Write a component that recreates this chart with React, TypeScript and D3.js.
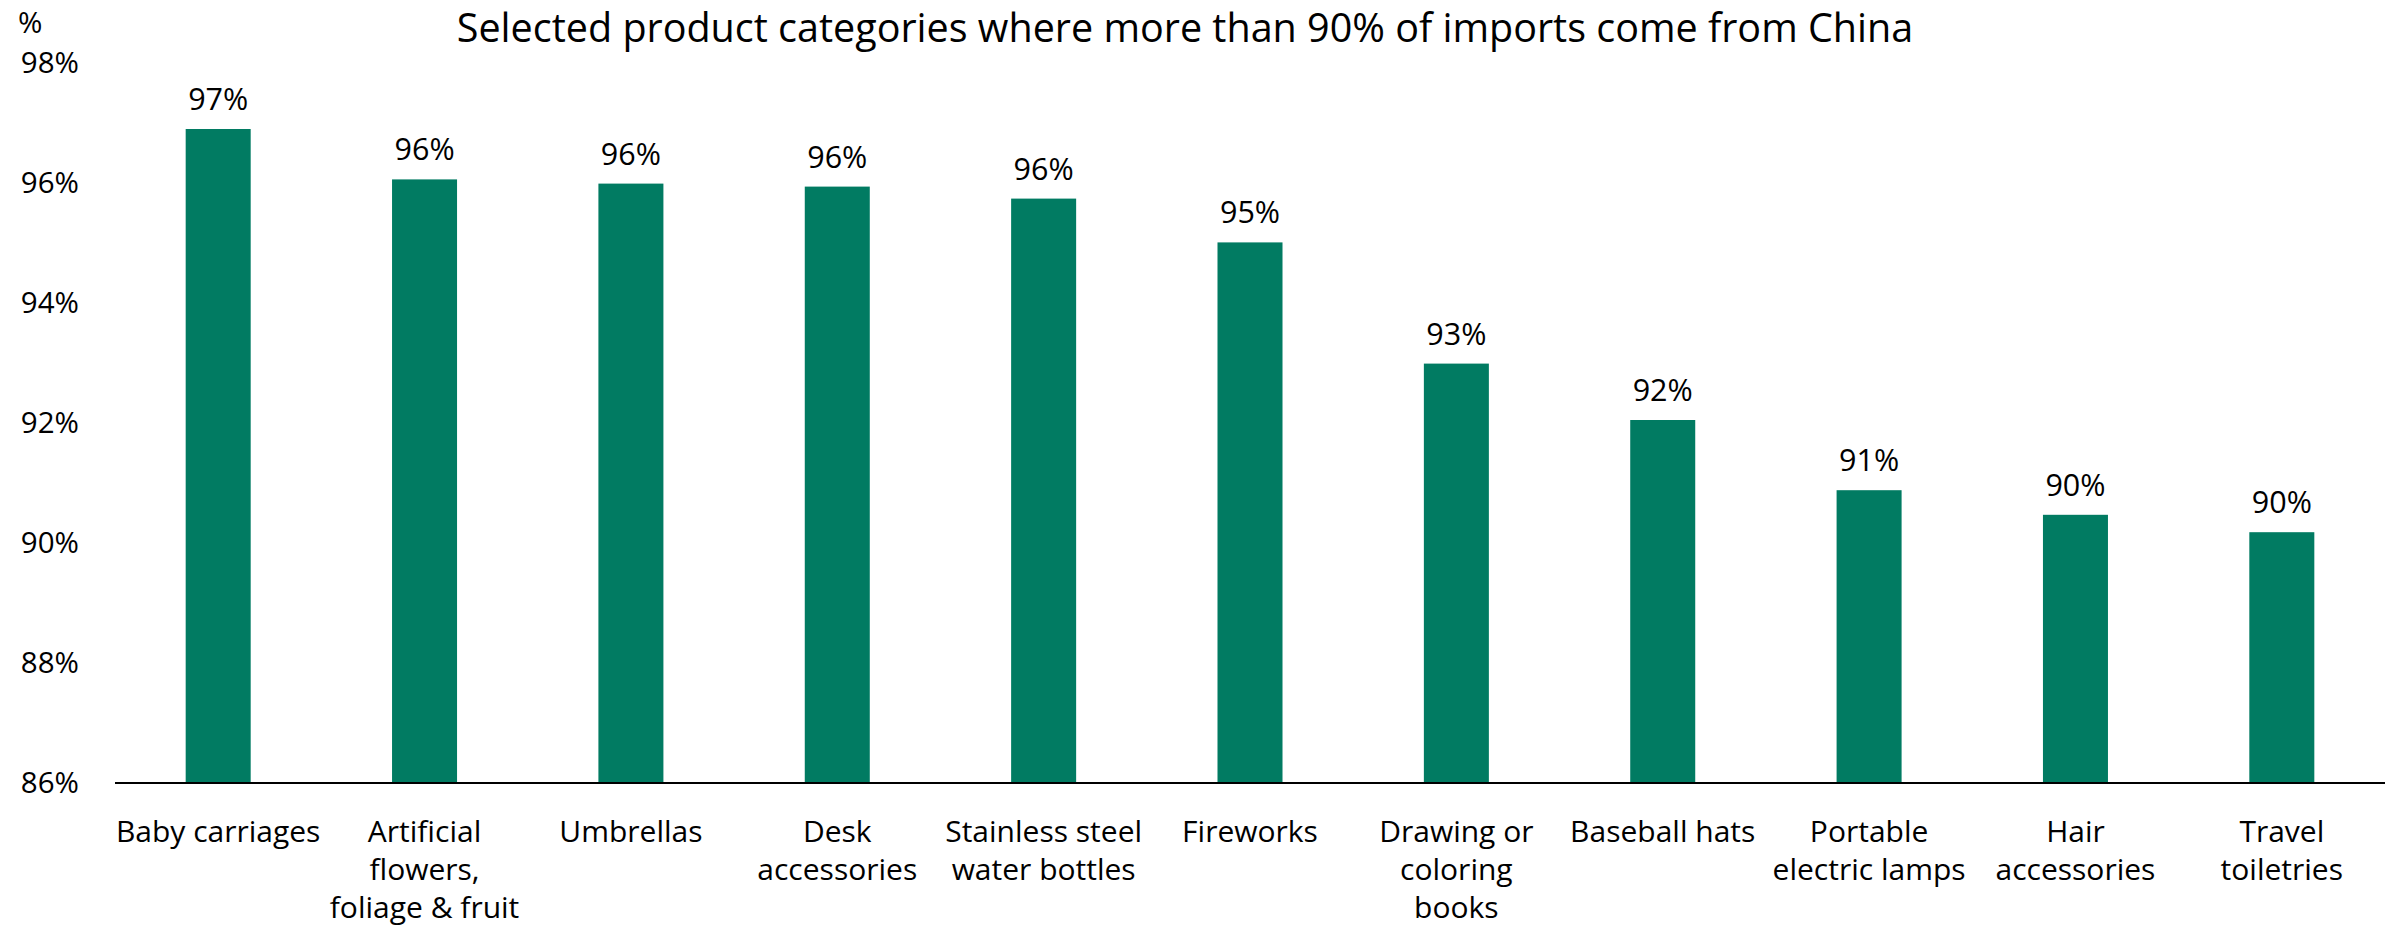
import React from 'react';
import * as d3 from 'd3';

const W = 2394;
const H = 935;

const title = 'Selected product categories where more than 90% of imports come from China';
const unitLabel = '%';

const categories: string[][] = [
  ['Baby carriages'],
  ['Artificial', 'flowers,', 'foliage & fruit'],
  ['Umbrellas'],
  ['Desk', 'accessories'],
  ['Stainless steel', 'water bottles'],
  ['Fireworks'],
  ['Drawing or', 'coloring', 'books'],
  ['Baseball hats'],
  ['Portable', 'electric lamps'],
  ['Hair', 'accessories'],
  ['Travel', 'toiletries'],
];
const shares = [96.9, 96.06, 95.99, 95.94, 95.74, 95.01, 92.99, 92.05, 90.88, 90.47, 90.18];
const yTicks = [86, 88, 90, 92, 94, 96, 98];

const FONT = '"Open Sans", "Noto Sans", sans-serif';
const BAR = '#017b62';

export default function App() {
  const left = 115;
  const right = 2385;
  const top = 63;
  const bottom = 783;

  const x = d3
    .scaleBand<number>()
    .domain(d3.range(categories.length))
    .range([left, right])
    .paddingInner(0.685)
    .paddingOuter(0.3425);
  const y = d3.scaleLinear().domain([86, 98]).range([bottom, top]);
  const fmt = d3.format('.0f');

  return (
    <div style={{ position: 'absolute', left: 0, top: 0 }}>
      <svg width={W} height={H} style={{ display: 'block', background: '#fff' }} fontFamily={FONT}>
        <text x={1185} y={42} fontSize={39.5} textAnchor="middle" fill="#000">
          {title}
        </text>
        <text x={18} y={33} fontSize={29.5} fill="#000">
          {unitLabel}
        </text>

        {/* y tick labels, no gridlines */}
        {yTicks.map((t) => (
          <text key={t} x={79} y={y(t)} dy="0.35em" fontSize={29.5} textAnchor="end" fill="#000">
            {t}%
          </text>
        ))}

        {/* bars + value labels */}
        {shares.map((v, i) => (
          <g key={i}>
            <rect x={x(i)} y={y(v)} width={x.bandwidth()} height={bottom - y(v)} fill={BAR} />
            <text
              x={(x(i) as number) + x.bandwidth() / 2}
              y={y(v) - 19}
              fontSize={30.5}
              textAnchor="middle"
              fill="#000"
            >
              {fmt(v)}%
            </text>
          </g>
        ))}

        <line x1={left} x2={right} y1={bottom} y2={bottom} stroke="#000" strokeWidth={2} />

        {/* category labels, wrapped like the original */}
        {categories.map((lines, i) => (
          <text
            key={i}
            x={(x(i) as number) + x.bandwidth() / 2}
            y={842}
            fontSize={30}
            textAnchor="middle"
            fill="#000"
          >
            {lines.map((ln, j) => (
              <tspan key={j} x={(x(i) as number) + x.bandwidth() / 2} dy={j === 0 ? 0 : 38}>
                {ln}
              </tspan>
            ))}
          </text>
        ))}
      </svg>
    </div>
  );
}
